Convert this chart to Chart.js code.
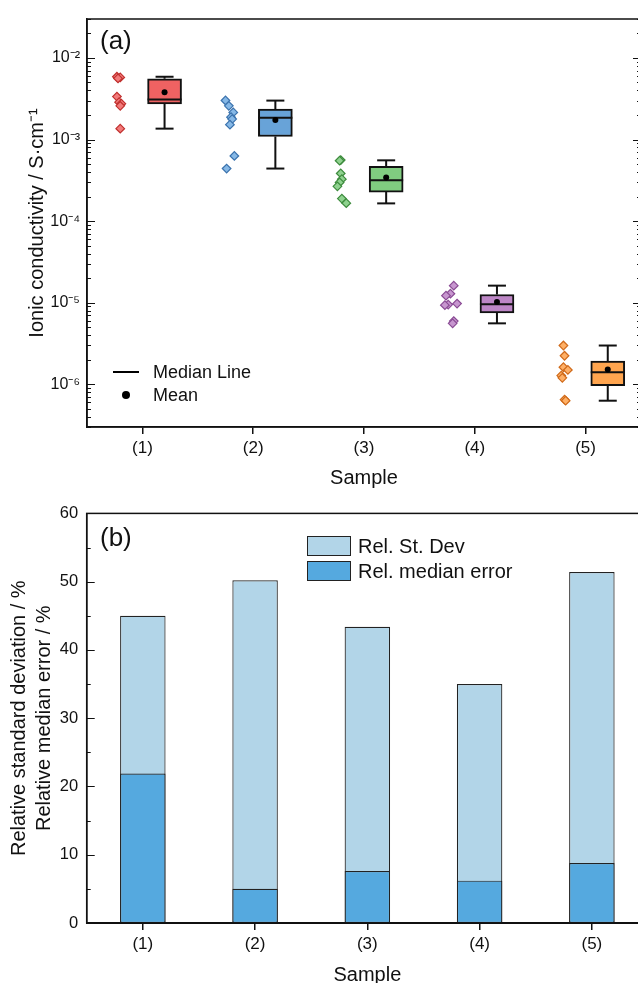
<!DOCTYPE html>
<html lang="en">
<head>
    <meta charset="UTF-8">
    <title>Ionic conductivity - samples</title>
    <script src="https://cdn.jsdelivr.net/npm/chart.js"></script>
    <style>
        html, body { margin: 0; padding: 0; overflow: hidden; background: #fff; }
        body { width: 638px; height: 983px; position: relative; font-family: "Liberation Sans", Arial, sans-serif; color: #111; }
        .wrap { position: absolute; left: 0; }
        .tag { position: absolute; font-size: 26px; line-height: 26px; }
        .leg { position: absolute; font-size: 18px; line-height: 20px; white-space: nowrap; }
        .sw { position: absolute; width: 42px; height: 18px; border: 1px solid #222; }
    </style>
</head>
<body>
    <div class="wrap" style="top:0;"><canvas id="graficoBox" width="660" height="495"></canvas></div>
    <div class="wrap" style="top:495px;"><canvas id="graficoBarras" width="660" height="500"></canvas></div>

    <div class="tag" style="left:100px; top:27px;">(a)</div>
    <div class="tag" style="left:100px; top:524px;">(b)</div>

    <!-- legenda (a) -->
    <div style="position:absolute; left:113px; top:371px; width:26px; height:2px; background:#000;"></div>
    <div style="position:absolute; left:122px; top:391px; width:8px; height:8px; border-radius:50%; background:#000;"></div>
    <div class="leg" style="left:153px; top:362px;">Median Line</div>
    <div class="leg" style="left:153px; top:385px;">Mean</div>

    <!-- legenda (b) -->
    <div class="sw" style="left:307px; top:536px; background:#b2d5e8;"></div>
    <div class="sw" style="left:307px; top:561px; background:#55a9df;"></div>
    <div class="leg" style="left:358px; top:536px; font-size:20px;">Rel. St. Dev</div>
    <div class="leg" style="left:358px; top:561px; font-size:20px;">Rel. median error</div>

    <script>
        // amostras
        const amostras = ['(1)', '(2)', '(3)', '(4)', '(5)'];

        // pontos medidos (S/cm) e deslocamento horizontal de cada ponto
        const pts1 = [5.88e-3, 5.77e-3, 5.61e-3, 3.36e-3, 2.87e-3, 2.75e-3, 2.59e-3, 1.36e-3];
        const pts2 = [3.01e-3, 2.59e-3, 2.15e-3, 1.88e-3, 1.78e-3, 1.52e-3, 6.29e-4, 4.41e-4];
        const pts3 = [5.6e-4, 5.5e-4, 3.84e-4, 3.27e-4, 2.98e-4, 2.67e-4, 1.89e-4, 1.66e-4];
        const pts4 = [1.62e-5, 1.29e-5, 1.22e-5, 9.77e-6, 9.5e-6, 9.33e-6, 5.96e-6, 5.59e-6];
        const pts5 = [2.99e-6, 2.24e-6, 1.62e-6, 1.5e-6, 1.28e-6, 1.2e-6, 6.5e-7, 6.3e-7];
        const jit1 = [-0.23, -0.2, -0.22, -0.23, -0.21, -0.19, -0.2, -0.2];
        const jit2 = [-0.25, -0.22, -0.18, -0.2, -0.19, -0.21, -0.17, -0.24];
        const jit3 = [-0.21, -0.22, -0.21, -0.2, -0.22, -0.24, -0.2, -0.16];
        const jit4 = [-0.19, -0.22, -0.26, -0.16, -0.24, -0.27, -0.19, -0.2];
        const jit5 = [-0.2, -0.19, -0.2, -0.16, -0.22, -0.21, -0.19, -0.18];

        // estatisticas do boxplot
        const boxMin  = [1.36e-3, 4.41e-4, 1.65e-4, 5.59e-6, 6.3e-7];
        const boxQ1   = [2.74e-3, 1.09e-3, 2.27e-4, 7.52e-6, 9.6e-7];
        const boxMed  = [3.1e-3, 1.85e-3, 3.18e-4, 9.6e-6, 1.41e-6];
        const boxQ3   = [5.56e-3, 2.36e-3, 4.7e-4, 1.26e-5, 1.93e-6];
        const boxMax  = [5.88e-3, 3.0e-3, 5.56e-4, 1.62e-5, 2.99e-6];
        const boxMean = [3.79e-3, 1.73e-3, 3.43e-4, 1.02e-5, 1.52e-6];

        // grafico (b), %
        const relStDev = [45.0, 50.2, 43.4, 35.0, 51.4];
        const relMedErr = [21.9, 5.0, 7.6, 6.2, 8.8];

        const corBox   = ['#ef6262', '#68a3d8', '#80cc80', '#bd86c6', '#ffa54f'];
        const corPonto = ['#f27a7a', '#86b8e6', '#8fd28f', '#c796cf', '#ffb066'];
        const corBorda = ['#c0302e', '#3a72ad', '#3d8b3d', '#8a4b94', '#d06a1a'];

        const todosPts = [pts1, pts2, pts3, pts4, pts5];
        const todosJit = [jit1, jit2, jit3, jit4, jit5];
        const desloc = 0.2;

        Chart.defaults.font.family = '"Liberation Sans", Arial, sans-serif';
        Chart.defaults.color = '#111';
        Chart.defaults.animation = false;

        const sup = { '-': '\u207B', '0': '\u2070', '1': '\u00B9', '2': '\u00B2', '3': '\u00B3', '4': '\u2074', '5': '\u2075', '6': '\u2076', '7': '\u2077', '8': '\u2078', '9': '\u2079' };
        function potencia(exp) {
            return '10' + String(exp).split('').map(c => sup[c]).join('');
        }

        // ticks do eixo log: 1..9 x 10^n
        const ticksLog = [];
        for (let n = -7; n <= -2; n++) {
            for (let k = 1; k <= 9; k++) {
                const v = Number((k * Math.pow(10, n)).toPrecision(3));
                if (v >= 3e-7 && v <= 3e-2) ticksLog.push({ value: v, major: k === 1, exp: n });
            }
        }

        function molduraETicks(maior, menor, ehMaior) {
            return {
                id: 'moldura',
                afterDraw(chart) {
                    const { ctx, chartArea: a } = chart;
                    const y = chart.scales.y;
                    ctx.save();
                    ctx.strokeStyle = '#111';
                    ctx.lineWidth = 1.5;
                    ctx.strokeRect(a.left, a.top, a.right - a.left, a.bottom - a.top);
                    ctx.lineWidth = 1.2;
                    ctx.beginPath();
                    y.ticks.forEach(t => {
                        const py = Math.round(y.getPixelForValue(t.value)) + 0.5;
                        const len = ehMaior(t.value) ? maior : menor;
                        ctx.moveTo(a.left, py); ctx.lineTo(a.left + len, py);
                        ctx.moveTo(a.right, py); ctx.lineTo(a.right - len, py);
                    });
                    ctx.stroke();
                    ctx.restore();
                }
            };
        }

        const datasetsBox = [];

        todosPts.forEach((pts, i) => {
            datasetsBox.push({
                type: 'scatter',
                data: pts.map((v, j) => ({ x: i + 1 + todosJit[i][j], y: v })),
                pointStyle: 'rectRot',
                pointRadius: 4.3,
                backgroundColor: corPonto[i],
                borderColor: corBorda[i],
                borderWidth: 1.2,
                order: 6
            });
        });

        datasetsBox.push({
            type: 'line',
            data: amostras.flatMap((s, i) => {
                const x = i + 1 + desloc;
                return [{ x, y: boxMax[i] }, { x, y: boxQ3[i] }, { x, y: null },
                        { x, y: boxQ1[i] }, { x, y: boxMin[i] }, { x, y: null }];
            }),
            borderColor: '#111',
            borderWidth: 2,
            pointRadius: 0,
            spanGaps: false,
            order: 5
        });

        datasetsBox.push({
            type: 'bar',
            data: amostras.map((s, i) => ({ x: i + 1 + desloc, y: [boxQ1[i], boxQ3[i]] })),
            backgroundColor: corBox,
            borderColor: '#111',
            borderWidth: 2,
            borderSkipped: false,
            barThickness: 34,
            grouped: false,
            order: 4
        });

        datasetsBox.push({
            type: 'scatter',
            data: amostras.flatMap((s, i) => [{ x: i + 1 + desloc, y: boxMax[i] }, { x: i + 1 + desloc, y: boxMin[i] }]),
            pointStyle: 'line',
            pointRadius: 9,
            borderColor: '#111',
            borderWidth: 2,
            order: 3
        });

        datasetsBox.push({
            type: 'scatter',
            data: amostras.map((s, i) => ({ x: i + 1 + desloc, y: boxMed[i] })),
            pointStyle: 'line',
            pointRadius: 17,
            borderColor: '#111',
            borderWidth: 2,
            order: 2
        });

        datasetsBox.push({
            type: 'scatter',
            data: amostras.map((s, i) => ({ x: i + 1 + desloc, y: boxMean[i] })),
            pointStyle: 'circle',
            pointRadius: 3,
            backgroundColor: '#000',
            borderColor: '#000',
            borderWidth: 0,
            order: 1
        });

        new Chart(document.getElementById('graficoBox'), {
            type: 'scatter',
            data: { datasets: datasetsBox },
            options: {
                responsive: false,
                layout: { padding: { top: 15, right: 15.5, left: 0, bottom: 0 } },
                plugins: { legend: { display: false }, tooltip: { enabled: false } },
                scales: {
                    x: {
                        type: 'linear',
                        min: 0.5,
                        max: 5.5,
                        offset: false,
                        afterBuildTicks: s => { s.ticks = amostras.map((a, i) => ({ value: i + 1 })); },
                        afterFit: s => { s.height = 68; },
                        ticks: { callback: v => amostras[v - 1] || '', font: { size: 17 }, padding: 4, maxRotation: 0 },
                        grid: { offset: false, drawOnChartArea: false, tickLength: 7, color: '#111', lineWidth: 1.5 },
                        border: { color: '#111', width: 1.5 },
                        title: { display: true, text: 'Sample', font: { size: 20 }, padding: { top: 0, bottom: 5 } }
                    },
                    y: {
                        type: 'logarithmic',
                        min: 3e-7,
                        max: 3e-2,
                        afterBuildTicks: s => { s.ticks = ticksLog.map(t => ({ value: t.value, major: t.major })); },
                        afterFit: s => { s.width = 87; },
                        ticks: {
                            autoSkip: false,
                            padding: 7,
                            font: { size: 16 },
                            callback: (v, idx) => ticksLog[idx] && ticksLog[idx].major ? potencia(ticksLog[idx].exp) : ''
                        },
                        grid: { display: false, drawTicks: false },
                        border: { color: '#111', width: 1.5 },
                        title: { display: true, text: 'Ionic conductivity / S\u00B7cm\u207B\u00B9', font: { size: 20 }, padding: { top: 25, bottom: 0 } }
                    }
                }
            },
            plugins: [molduraETicks(8, 4, v => ticksLog.some(t => t.value === v && t.major))]
        });

        new Chart(document.getElementById('graficoBarras'), {
            type: 'bar',
            data: {
                labels: amostras,
                datasets: [
                    {
                        label: 'Rel. St. Dev',
                        data: relStDev,
                        backgroundColor: '#b2d5e8',
                        borderColor: '#222',
                        borderWidth: 1.2,
                        borderSkipped: false,
                        order: 2
                    },
                    {
                        label: 'Rel. median error',
                        data: relMedErr,
                        backgroundColor: '#55a9df',
                        borderColor: '#222',
                        borderWidth: 1.2,
                        borderSkipped: false,
                        order: 1
                    }
                ]
            },
            options: {
                responsive: false,
                layout: { padding: { top: 16, right: 12, left: 0, bottom: 0 } },
                plugins: { legend: { display: false }, tooltip: { enabled: false } },
                datasets: { bar: { barPercentage: 0.405, categoryPercentage: 1 } },
                scales: {
                    x: {
                        stacked: true,
                        afterFit: s => { s.height = 72; },
                        ticks: { font: { size: 17 }, padding: 4, maxRotation: 0 },
                        grid: { offset: false, drawOnChartArea: false, tickLength: 7, color: '#111', lineWidth: 1.5 },
                        border: { color: '#111', width: 2 },
                        title: { display: true, text: 'Sample', font: { size: 20 }, padding: { top: 0, bottom: 8 } }
                    },
                    y: {
                        stacked: false,
                        min: 0,
                        max: 60,
                        afterBuildTicks: s => {
                            const t = [];
                            for (let v = 0; v <= 60; v += 5) t.push({ value: v });
                            s.ticks = t;
                        },
                        afterFit: s => { s.width = 86.7; },
                        ticks: { autoSkip: false, padding: 8.5, font: { size: 16.5 }, callback: v => (v % 10 === 0 ? String(v) : '') },
                        grid: { display: false, drawTicks: false },
                        border: { color: '#111', width: 1.5 },
                        title: {
                            display: true,
                            text: ['Relative standard deviation / %', 'Relative median error / %'],
                            font: { size: 20, lineHeight: 1.25 },
                            padding: { top: 7, bottom: 0 }
                        }
                    }
                }
            },
            plugins: [molduraETicks(8, 4, v => v % 10 === 0)]
        });
    </script>
</body>
</html>
